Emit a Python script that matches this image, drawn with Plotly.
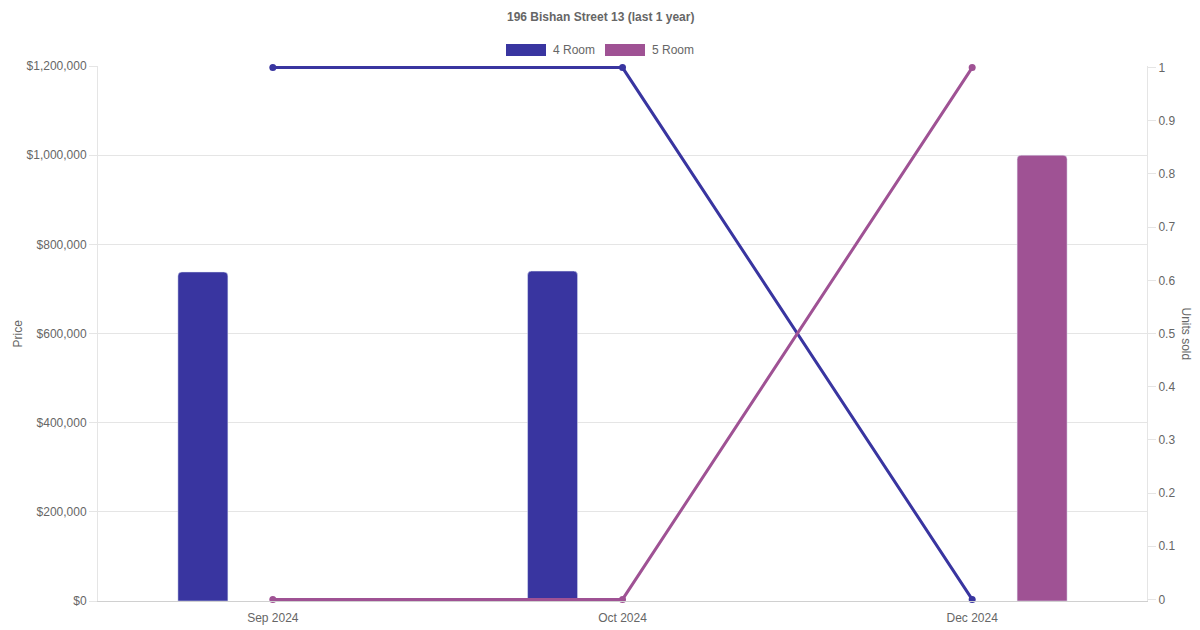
import plotly.graph_objects as go

# ---- data ----
months = ["Sep 2024", "Oct 2024", "Dec 2024"]
price_4room = [738000, 740000, None]
price_5room = [None, None, 1000000]
units_4room = [1, 1, 0]
units_5room = [0, 0, 1]

C4 = "#3935A0"
C5 = "#9F5294"
FONT = "Liberation Sans, Arial, Helvetica, sans-serif"
TXT = "#666666"
GRID = "#e5e5e5"

# page offset (body margin) compensation
OFF = 8
W, H = 1200 - OFF, 630 - OFF
L, R, T, B = 98 - OFF, 53, 66 - OFF, 29
PW, PH = W - L - R, H - T - B


def px(x):
    return (x - OFF - L) / PW


def py(y):
    return (H - B - (y - OFF)) / PH


bar_w = 50 / (PW / 3)

fig = go.Figure()
fig.add_trace(go.Bar(x=months, y=price_4room, name="4 Room", marker_color=C4,
                     width=bar_w, offset=-0.2 - bar_w / 2, showlegend=False))
fig.add_trace(go.Bar(x=months, y=price_5room, name="5 Room", marker_color=C5,
                     width=bar_w, offset=0.2 - bar_w / 2, showlegend=False))
fig.add_trace(go.Scatter(x=months, y=units_4room, yaxis="y2", mode="lines+markers",
                         line=dict(color=C4, width=3), marker=dict(color=C4, size=7),
                         cliponaxis=False, showlegend=False))
fig.add_trace(go.Scatter(x=months, y=units_5room, yaxis="y2", mode="lines+markers",
                         line=dict(color=C5, width=3), marker=dict(color=C5, size=7),
                         cliponaxis=False, showlegend=False))

shapes = [
    dict(type="rect", xref="paper", yref="paper", x0=px(506), x1=px(546), y0=py(56), y1=py(44),
         fillcolor=C4, line=dict(width=0)),
    dict(type="rect", xref="paper", yref="paper", x0=px(605), x1=px(645), y0=py(56), y1=py(44),
         fillcolor=C5, line=dict(width=0)),
]
annotations = [
    dict(text="<b>196 Bishan Street 13 (last 1 year)</b>", xref="paper", yref="paper",
         x=px(600), y=py(17), showarrow=False, font=dict(size=12, color=TXT, family=FONT),
         xanchor="center", yanchor="middle"),
    dict(text="4 Room", xref="paper", yref="paper", x=px(551), y=py(50), showarrow=False,
         font=dict(size=12, color=TXT, family=FONT), xanchor="left", yanchor="middle"),
    dict(text="5 Room", xref="paper", yref="paper", x=px(650), y=py(50), showarrow=False,
         font=dict(size=12, color=TXT, family=FONT), xanchor="left", yanchor="middle"),
    dict(text="Price", xref="paper", yref="paper", x=px(17), y=0.5, showarrow=False,
         textangle=-90, font=dict(size=12, color=TXT, family=FONT),
         xanchor="center", yanchor="middle"),
    dict(text="Units sold", xref="paper", yref="paper", x=px(1186), y=0.5, showarrow=False,
         textangle=90, font=dict(size=12, color=TXT, family=FONT),
         xanchor="center", yanchor="middle"),
]

fig.update_layout(
    width=W, height=H,
    margin=dict(l=L, r=R, t=T, b=B, autoexpand=False),
    paper_bgcolor="white", plot_bgcolor="white",
    font=dict(family=FONT, size=12, color=TXT),
    barmode="overlay", barcornerradius=4,
    showlegend=False,
    shapes=shapes, annotations=annotations,
    xaxis=dict(type="category", range=[-0.5, 2.5], showgrid=False,
               showline=True, linecolor="#d0d0d0", linewidth=1, ticks="",
               tickfont=dict(size=12, color=TXT), ticklabelstandoff=6,
               mirror=False, zeroline=False),
    yaxis=dict(range=[0, 1200000], dtick=200000, tickprefix="$", tickformat=",d",
               showgrid=True, gridcolor=GRID, gridwidth=1, zeroline=False,
               showline=True, linecolor=GRID, ticks="outside", ticklen=8, tickcolor=GRID,
               tickfont=dict(size=12, color=TXT)),
    yaxis2=dict(overlaying="y", side="right", range=[-0.003, 1.003], tick0=0, dtick=0.1,
                showgrid=False, zeroline=False, showline=True, linecolor=GRID,
                ticks="outside", ticklen=8, tickcolor=GRID,
                tickfont=dict(size=12, color=TXT)),
)

fig.write_html("out.html")
